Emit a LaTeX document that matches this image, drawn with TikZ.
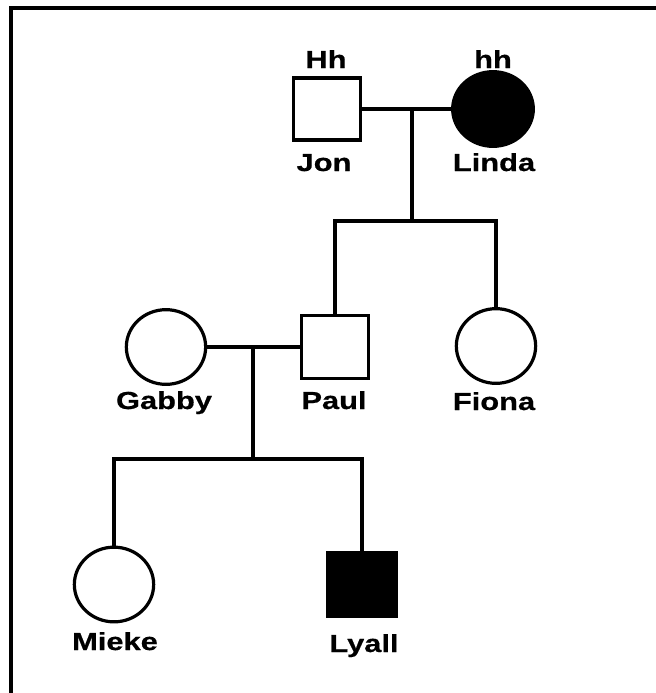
\documentclass[tikz,border=0pt]{standalone}
\usepackage{fontspec}
\setmainfont{Liberation Sans}[FakeStretch=1.25,BoldFeatures={FakeBold=0.6}]
\usetikzlibrary{shapes.geometric}

\begin{document}
\begin{tikzpicture}[x=0.75pt,y=-0.75pt,line width=2.4pt]
    \useasboundingbox (0,0) rectangle (656,693);
    \draw[line width=3pt] (656,8) -- (11,8) -- (11,693);
    \begin{scope}[every node/.style={draw=black,line width=2.4pt,inner sep=0pt,fill=white}]
        \node[rectangle,minimum width=50pt,minimum height=46.5pt] (jon) at (327,109) {};
        \node[ellipse,fill=black,minimum width=60.5pt,minimum height=56pt] (linda) at (493,109) {};
        \node[rectangle,minimum width=50pt,minimum height=47pt] (paul) at (335,347) {};
        \node[ellipse,minimum width=59.5pt,minimum height=56pt] (gabby) at (166,347) {};
        \node[ellipse,minimum width=59.5pt,minimum height=56pt] (fiona) at (496,346) {};
        \node[ellipse,minimum width=59.5pt,minimum height=56pt] (mieke) at (114,584.5) {};
        \node[rectangle,fill=black,minimum width=52pt,minimum height=48pt] (lyall) at (362,584.5) {};
    \end{scope}
    \coordinate (m1) at (412,109);
    \coordinate (s1) at (412,221);
    \coordinate (m2) at (253,347);
    \coordinate (s2) at (253,459);
    \begin{scope}[every edge/.style={draw=black,line width=2.4pt}]
        \path [-] (jon.east) edge (linda.west);
        \path [-] (gabby.east) edge (paul.west);
        \path [-] (m1) edge (s1);
        \path [-] (m2) edge (s2);
    \end{scope}
    \draw (paul.north) |- (s1) -| (fiona.north);
    \draw (mieke.north) |- (s2) -| (lyall.north);
    \begin{scope}[every node/.style={anchor=base,inner sep=0pt,font=\bfseries\fontsize{18.5}{22}\selectfont}]
        \node (hjon) at (326,68) {Hh};
        \node (hlinda) at (493,68) {hh};
        \node (tjon) at (324,171) {Jon};
        \node (tlinda) at (494,171) {Linda};
        \node (tgabby) at (164,409) {Gabby};
        \node (tpaul) at (334,409) {Paul};
        \node (tfiona) at (494,410) {Fiona};
        \node (tmieke) at (115,650) {Mieke};
        \node (tlyall) at (364,652) {Lyall};
    \end{scope}
\end{tikzpicture}
\end{document}
